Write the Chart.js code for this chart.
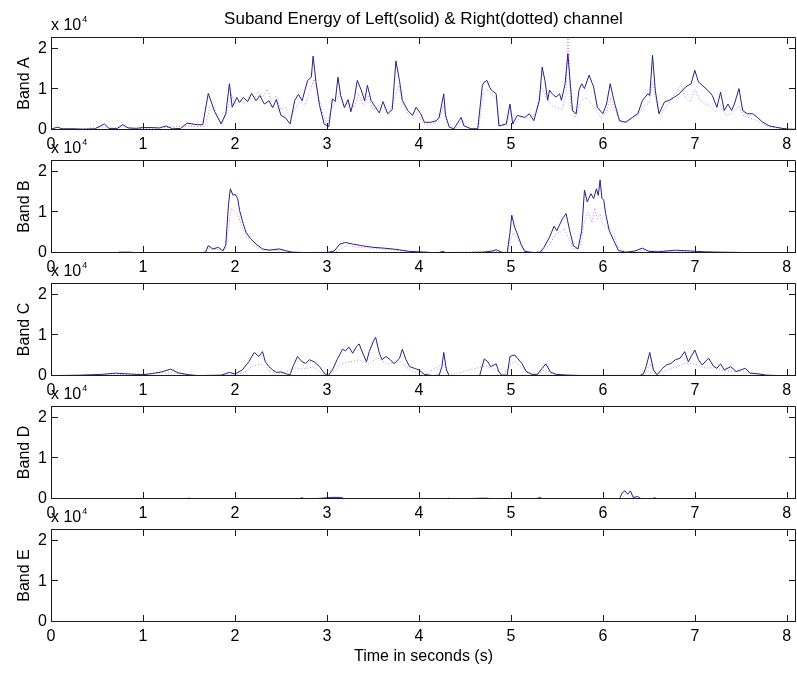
<!DOCTYPE html>
<html lang="en">
<head>
<meta charset="UTF-8">
<title>Suband Energy</title>
<script src="https://cdn.jsdelivr.net/npm/chart.js"></script>
<style>
  body { margin: 0; background: #fff; }
  #fig { position: relative; width: 797px; height: 673px; overflow: hidden; background: #fff; }
  #fig canvas { position: absolute; left: 0; }
</style>
</head>
<body>
<div id="fig">
  <canvas id="bandA" width="797" height="155" style="top:0px"></canvas>
  <canvas id="bandB" width="797" height="155" style="top:123px"></canvas>
  <canvas id="bandC" width="797" height="155" style="top:246px"></canvas>
  <canvas id="bandD" width="797" height="155" style="top:369px"></canvas>
  <canvas id="bandE" width="797" height="181" style="top:492px"></canvas>
</div>
<script>
// time axis (seconds) and energy axis
const timeTicks = [0, 1, 2, 3, 4, 5, 6, 7, 8];
const energyTicks = [0, 10000, 20000];
const timeMax = 8.1;
const energyMax = 22900;

// [time (s), energy] for the left (solid) and right (dotted) channel of every band
const leftA = [[0,200],[0.07,700],[0.12,300],[0.25,300],[0.35,200],[0.48,300],[0.58,1500],[0.63,400],[0.72,400],[0.78,1300],[0.84,500],[0.92,400],[1.0,600],[1.1,600],[1.18,500],[1.25,1000],[1.32,300],[1.41,400],[1.48,1700],[1.59,1300],[1.65,1300],[1.71,9000],[1.78,4500],[1.85,1500],[1.9,4000],[1.94,11400],[1.97,5600],[2.02,8000],[2.05,6800],[2.09,8000],[2.14,7000],[2.18,9000],[2.23,7200],[2.27,8500],[2.32,6400],[2.37,7200],[2.41,5500],[2.45,7500],[2.5,3600],[2.55,3000],[2.6,1500],[2.65,7300],[2.69,8800],[2.73,7200],[2.79,12200],[2.83,13000],[2.85,18200],[2.88,12000],[2.92,6000],[2.97,1500],[3.02,800],[3.06,7700],[3.09,7000],[3.12,13000],[3.15,8500],[3.19,5500],[3.23,7500],[3.26,4500],[3.3,8000],[3.33,12200],[3.37,10000],[3.41,7200],[3.44,11000],[3.48,7300],[3.53,5500],[3.57,4200],[3.61,7000],[3.66,4000],[3.71,5000],[3.75,17000],[3.79,12000],[3.82,7300],[3.88,4800],[3.93,3600],[3.97,5600],[4.02,4000],[4.06,1900],[4.13,1900],[4.19,2300],[4.22,3100],[4.27,8900],[4.29,3500],[4.33,700],[4.38,300],[4.46,3100],[4.49,1000],[4.57,300],[4.64,300],[4.69,11000],[4.71,11800],[4.74,12200],[4.77,10500],[4.79,9800],[4.84,8900],[4.87,1000],[4.95,1500],[4.99,6400],[5.02,1500],[5.07,3600],[5.15,3100],[5.2,4000],[5.25,2300],[5.31,7300],[5.34,15500],[5.37,12200],[5.4,7300],[5.42,9800],[5.45,8900],[5.49,8100],[5.53,8900],[5.55,7300],[5.59,11400],[5.62,18800],[5.64,13000],[5.67,4800],[5.71,4000],[5.74,9800],[5.77,11400],[5.8,10200],[5.85,13500],[5.9,10600],[5.94,5600],[6.0,4000],[6.04,6400],[6.08,11400],[6.12,7300],[6.18,2300],[6.25,1900],[6.32,3100],[6.38,4000],[6.43,7300],[6.49,8900],[6.51,8500],[6.54,18400],[6.57,9800],[6.61,4000],[6.67,6900],[6.72,7300],[6.78,8100],[6.83,8900],[6.9,10600],[6.96,11400],[7.0,14700],[7.04,11800],[7.08,11000],[7.14,9800],[7.19,8500],[7.24,5600],[7.28,9300],[7.32,4800],[7.36,6400],[7.4,4800],[7.43,6400],[7.48,10200],[7.52,4800],[7.57,4000],[7.63,4000],[7.68,3100],[7.74,1900],[7.81,1000],[7.88,700],[7.95,400],[8.03,200],[8.09,200]];
const rightA = [[0,100],[0.3,200],[0.58,800],[0.7,200],[0.78,800],[1.0,300],[1.25,600],[1.45,1000],[1.6,800],[1.68,1000],[1.73,6000],[1.78,5000],[1.85,1500],[1.92,4500],[1.96,9000],[2.0,6000],[2.05,7500],[2.1,6500],[2.15,8000],[2.2,7000],[2.25,9500],[2.3,8000],[2.35,10000],[2.4,7000],[2.45,8500],[2.5,5000],[2.55,5500],[2.6,3000],[2.66,5500],[2.7,7000],[2.76,6000],[2.82,10000],[2.86,12500],[2.9,9000],[2.95,4500],[3.0,1200],[3.05,5500],[3.1,7000],[3.14,9000],[3.18,6000],[3.24,6500],[3.3,5500],[3.34,9000],[3.4,6000],[3.45,8500],[3.5,5000],[3.56,6000],[3.62,5500],[3.68,4500],[3.74,8000],[3.78,11000],[3.83,6000],[3.9,3500],[3.97,4500],[4.05,1500],[4.15,1500],[4.22,2500],[4.27,6000],[4.31,2000],[4.4,300],[4.46,2200],[4.55,300],[4.65,300],[4.7,9000],[4.75,10000],[4.8,8500],[4.85,7500],[4.88,1000],[4.95,1200],[5.0,5000],[5.03,1200],[5.1,3000],[5.2,3000],[5.27,4000],[5.33,11000],[5.38,8000],[5.45,6000],[5.5,5500],[5.56,5000],[5.6,9000],[5.62,26000],[5.65,6000],[5.7,3000],[5.76,7000],[5.82,8000],[5.87,6500],[5.93,5000],[5.98,3000],[6.04,4500],[6.08,8000],[6.13,5000],[6.2,1800],[6.3,2500],[6.38,3500],[6.44,6000],[6.5,6500],[6.54,12000],[6.58,7000],[6.62,3500],[6.68,5500],[6.74,7500],[6.8,9500],[6.85,11000],[6.9,8000],[6.95,7000],[7.0,10000],[7.05,7500],[7.1,6500],[7.16,6000],[7.22,4500],[7.28,6000],[7.34,3500],[7.4,4000],[7.48,6000],[7.53,3500],[7.6,3000],[7.7,2000],[7.8,800],[7.9,500],[8.0,200],[8.08,100]];

const leftB = [[0,0],[0.72,0],[0.74,200],[0.88,200],[0.9,0],[1.3,0],[1.35,100],[1.45,100],[1.6,0],[1.68,200],[1.71,1800],[1.76,1000],[1.82,1400],[1.87,500],[1.9,2000],[1.93,12000],[1.95,15800],[1.98,14200],[2.0,14500],[2.03,13400],[2.05,10500],[2.09,7200],[2.12,5100],[2.17,3500],[2.23,2200],[2.3,1000],[2.37,700],[2.48,1000],[2.55,600],[2.62,200],[2.8,100],[3.0,100],[3.08,500],[3.14,2200],[3.2,2600],[3.28,2200],[3.38,1800],[3.5,1400],[3.62,1200],[3.75,900],[3.9,400],[4.08,200],[4.2,0],[4.26,400],[4.3,0],[4.5,100],[4.7,200],[4.8,500],[4.84,800],[4.9,200],[4.96,0],[4.99,5000],[5.01,9300],[5.04,6400],[5.07,4700],[5.11,2200],[5.15,400],[5.25,100],[5.32,200],[5.36,1400],[5.42,3900],[5.47,6600],[5.5,5500],[5.56,8400],[5.6,9700],[5.64,5500],[5.68,1800],[5.73,1000],[5.77,5500],[5.8,15500],[5.83,12600],[5.87,14600],[5.9,13400],[5.93,15800],[5.95,14200],[5.97,18000],[5.99,13500],[6.01,13000],[6.03,9700],[6.07,5500],[6.12,3000],[6.17,600],[6.25,200],[6.35,500],[6.43,1200],[6.5,400],[6.6,300],[6.79,700],[6.95,500],[7.1,300],[7.3,200],[7.63,100],[7.65,0]];
const rightB = [[0,0],[1.65,0],[1.7,1000],[1.8,800],[1.9,1000],[1.93,6000],[1.96,11000],[2.0,10000],[2.04,9000],[2.08,6000],[2.13,4000],[2.2,2000],[2.3,800],[2.5,600],[2.7,100],[3.1,300],[3.2,1800],[3.35,1400],[3.6,1000],[3.9,300],[4.2,100],[4.8,400],[4.97,200],[5.0,3500],[5.03,5000],[5.07,3500],[5.12,1200],[5.2,100],[5.35,500],[5.42,2000],[5.48,4500],[5.53,5000],[5.58,6000],[5.63,3500],[5.7,800],[5.76,2000],[5.8,8000],[5.84,10000],[5.88,7500],[5.91,11000],[5.94,8500],[5.97,9500],[6.0,7000],[6.04,6500],[6.08,6000],[6.12,5000],[6.16,1500],[6.25,200],[6.45,600],[6.8,400],[7.3,100],[7.65,0]];

const leftC = [[0,100],[0.3,200],[0.55,400],[0.7,700],[0.85,500],[1.0,300],[1.1,600],[1.2,1000],[1.3,1700],[1.38,800],[1.5,300],[1.6,100],[1.85,200],[1.94,900],[2.0,500],[2.08,1500],[2.15,3500],[2.21,5800],[2.26,4800],[2.3,6000],[2.33,3500],[2.37,2300],[2.41,1500],[2.45,900],[2.5,1000],[2.56,500],[2.6,300],[2.63,2300],[2.68,4800],[2.73,3500],[2.77,3100],[2.81,4000],[2.86,3500],[2.92,2300],[2.97,700],[3.01,0],[3.06,1500],[3.11,4000],[3.17,6600],[3.2,6200],[3.24,7100],[3.28,5600],[3.32,7200],[3.35,7900],[3.39,5600],[3.43,3500],[3.46,6000],[3.51,8800],[3.53,9500],[3.57,5600],[3.6,4000],[3.64,4800],[3.69,4000],[3.73,3000],[3.79,4400],[3.82,6600],[3.86,4000],[3.9,2300],[3.95,1900],[4.0,1500],[4.06,400],[4.15,100],[4.22,200],[4.25,2300],[4.27,5800],[4.3,1500],[4.33,100],[4.55,0],[4.66,0],[4.71,4200],[4.75,3500],[4.78,2300],[4.84,3000],[4.87,1000],[4.9,200],[4.96,200],[4.99,4800],[5.04,5200],[5.07,4400],[5.12,3100],[5.17,1000],[5.23,400],[5.29,400],[5.34,1900],[5.38,3000],[5.43,1000],[5.49,400],[5.64,200],[5.8,100],[6.4,100],[6.44,500],[6.47,2300],[6.51,5800],[6.55,1500],[6.59,300],[6.65,1900],[6.69,2700],[6.74,3100],[6.79,4000],[6.84,4400],[6.89,6000],[6.93,3500],[6.96,4800],[7.0,6400],[7.04,4000],[7.08,2700],[7.15,4400],[7.2,2500],[7.24,1900],[7.28,3000],[7.32,1500],[7.39,2300],[7.45,1100],[7.55,1900],[7.6,700],[7.7,500],[7.78,200],[7.95,100]];
const rightC = [[0,0],[0.7,300],[1.3,800],[1.5,100],[2.0,300],[2.1,800],[2.2,2500],[2.3,3000],[2.38,1200],[2.5,500],[2.65,2000],[2.75,1800],[2.85,2200],[2.95,500],[3.05,500],[3.15,3000],[3.25,3500],[3.35,4000],[3.45,3000],[3.55,4500],[3.65,3000],[3.8,3500],[3.9,1500],[4.05,200],[4.27,3000],[4.32,100],[4.72,2500],[4.84,1500],[4.92,100],[5.0,3000],[5.05,3500],[5.15,1500],[5.25,200],[5.38,1500],[5.48,200],[6.45,200],[6.51,3000],[6.57,300],[6.7,1500],[6.8,2200],[6.9,3200],[7.0,3000],[7.1,2000],[7.2,2000],[7.35,1200],[7.55,1000],[7.75,200],[7.95,0]];

const leftD = [[0,0],[1.45,0],[1.5,200],[1.55,0],[2.7,0],[2.72,300],[2.78,0],[2.95,200],[3.05,400],[3.15,400],[3.2,0],[4.3,0],[4.32,200],[4.35,0],[4.7,200],[4.75,200],[4.78,0],[5.28,0],[5.31,400],[5.35,0],[6.18,0],[6.21,1500],[6.24,2000],[6.27,1200],[6.3,2000],[6.33,400],[6.38,600],[6.42,0],[6.53,0],[6.56,300],[6.6,0],[8.09,0]];
const rightD = [[0,0],[6.2,0],[6.24,1200],[6.28,1000],[6.32,500],[6.4,0],[8.09,0]];

const leftE = [[0,0],[8.09,0]];
const rightE = [[0,0],[8.09,0]];

const font = { family: "'Liberation Sans', Arial, sans-serif", size: 16, weight: 'normal' };
const solidColor = 'rgb(34,34,140)';
const dottedColor = 'rgb(222,120,222)';

// box around the axes with inward ticks on all four sides, plus the x 10^4 exponent
const matlabAxes = {
  id: 'matlabAxes',
  afterDatasetsDraw(chart) {
    const { ctx, chartArea: a, scales: { x, y } } = chart;
    const tl = 7;
    ctx.save();
    ctx.strokeStyle = '#1a1a1a';
    ctx.lineWidth = 1;
    ctx.beginPath();
    ctx.rect(a.left + 0.5, a.top + 0.5, a.right - a.left - 1, a.bottom - a.top - 1);
    timeTicks.forEach(v => {
      const px = Math.round(x.getPixelForValue(v)) + 0.5;
      ctx.moveTo(px, a.bottom); ctx.lineTo(px, a.bottom - tl);
      ctx.moveTo(px, a.top); ctx.lineTo(px, a.top + tl);
    });
    energyTicks.forEach(v => {
      const py = Math.round(y.getPixelForValue(v)) - 0.5;
      ctx.moveTo(a.left, py); ctx.lineTo(a.left + tl, py);
      ctx.moveTo(a.right, py); ctx.lineTo(a.right - tl, py);
    });
    ctx.stroke();

    ctx.fillStyle = '#000';
    ctx.textBaseline = 'alphabetic';
    ctx.textAlign = 'left';
    ctx.font = "16px 'Liberation Sans', Arial, sans-serif";
    ctx.fillText('x 10', a.left, a.top - 7);
    const w = ctx.measureText('x 10').width;
    ctx.font = "9px 'Liberation Sans', Arial, sans-serif";
    ctx.fillText('4', a.left + w + 1, a.top - 15);
    ctx.restore();
  }
};

function toXY(pairs) {
  return pairs.map(([t, v]) => ({ x: t, y: v }));
}

function makePanel(id, label, left, right, extra) {
  const isTop = extra.title != null;
  const xLabel = extra.xTitle;
  return new Chart(document.getElementById(id), {
    type: 'line',
    data: {
      datasets: [
        { label: 'Left', data: toXY(left), borderColor: solidColor, borderWidth: 1 },
        { label: 'Right', data: toXY(right), borderColor: dottedColor, borderWidth: 1, borderDash: [1, 2] }
      ]
    },
    options: {
      responsive: false,
      animation: false,
      events: [],
      layout: { padding: { top: isTop ? 0 : 37, right: 1, left: 0, bottom: 0 } },
      elements: { point: { radius: 0 }, line: { tension: 0 } },
      plugins: {
        legend: { display: false },
        tooltip: { enabled: false },
        title: {
          display: isTop,
          text: extra.title || '',
          color: '#000',
          font: { ...font, size: 17, lineHeight: 1.25 },
          padding: { top: 8.5, bottom: 7.25 },
          fullSize: false
        }
      },
      scales: {
        x: {
          type: 'linear',
          min: 0,
          max: timeMax,
          grid: { display: false, drawTicks: false },
          border: { display: false },
          afterBuildTicks: s => { s.ticks = timeTicks.map(v => ({ value: v })); },
          afterFit: s => { s.height = xLabel ? 51 : 25; },
          ticks: { color: '#000', font, padding: 5, autoSkip: false, maxRotation: 0 },
          title: { display: !!xLabel, text: xLabel || '', color: '#000', font, padding: { top: 0, bottom: 7 } }
        },
        y: {
          min: 0,
          max: energyMax,
          grid: { display: false, drawTicks: false },
          border: { display: false },
          afterBuildTicks: s => { s.ticks = energyTicks.map(v => ({ value: v })); },
          afterFit: s => { s.width = 51; },
          ticks: { color: '#000', font, padding: 4, callback: v => String(v / 10000) },
          title: { display: true, text: label, color: '#000', font, padding: { top: 14.5, bottom: 0 } }
        }
      }
    },
    plugins: [matlabAxes]
  });
}

makePanel('bandA', 'Band A', leftA, rightA, { title: 'Suband Energy of Left(solid) & Right(dotted) channel' });
makePanel('bandB', 'Band B', leftB, rightB, {});
makePanel('bandC', 'Band C', leftC, rightC, {});
makePanel('bandD', 'Band D', leftD, rightD, {});
makePanel('bandE', 'Band E', leftE, rightE, { xTitle: 'Time in seconds (s)' });
</script>
</body>
</html>
